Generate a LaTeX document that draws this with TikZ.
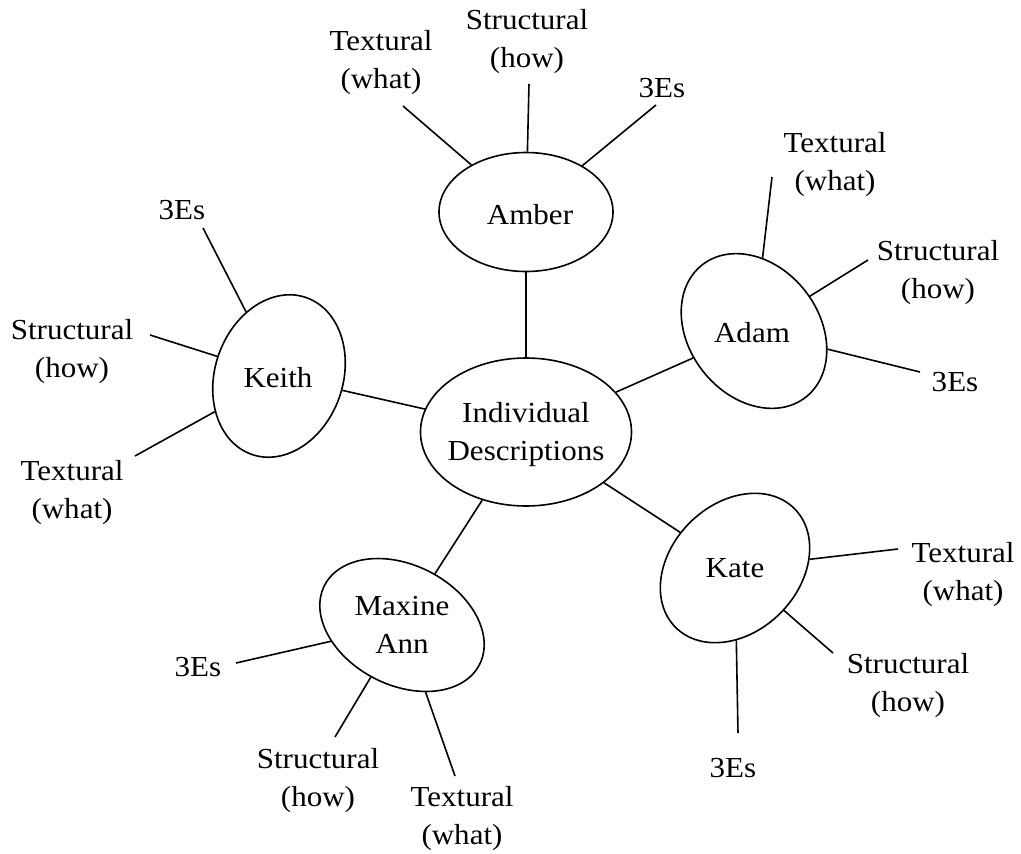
\documentclass[tikz,border=0pt]{standalone}
\usepackage{fontspec}
\setmainfont[FakeStretch=1.07]{Liberation Serif}
\usetikzlibrary{shapes.geometric}
\begin{document}
\begin{tikzpicture}[x=1pt,y=-1pt,
  person/.style={draw, ellipse, line width=1.6pt, inner sep=0pt},
  txt/.style={align=center, inner sep=0pt, font=\fontsize{29}{38}\selectfont},
  spoke/.style={line width=1.6pt}]
\useasboundingbox (0,0) rectangle (1021,854);

% ellipses
\node[person, minimum width=211, minimum height=148] (desc) at (526,432) {};
\node[person, minimum width=174, minimum height=119] (amber) at (526,212) {};
\node[person, minimum width=168, minimum height=130, rotate=-52] (adam) at (754,331) {};
\node[person, minimum width=166, minimum height=128, rotate=71] (keith) at (279,376) {};
\node[person, minimum width=168, minimum height=128, rotate=45] (kate) at (735,568) {};
\node[person, minimum width=174, minimum height=120, rotate=-27] (maxine) at (402,625) {};

% names inside the ellipses
\node[txt] (descname) at (526,435) {Individual\\Descriptions};
\node[txt] (ambername) at (530,215) {Amber};
\node[txt] (adamname) at (752,333) {Adam};
\node[txt] (keithname) at (278,378) {Keith};
\node[txt] (katename) at (735,568) {Kate};
\node[txt] (maxinename) at (402,625) {Maxine\\Ann};

% centre to each person
\draw[spoke] (desc) -- (amber);
\draw[spoke] (desc) -- (adam);
\draw[spoke] (desc) -- (keith);
\draw[spoke] (desc) -- (kate);
\draw[spoke] (desc) -- (maxine);

% facet labels
\node[txt] (amberT) at (381,63) {Textural\\(what)};
\node[txt] (amberS) at (527,42) {Structural\\(how)};
\node[txt] (amberE) at (662,88) {3Es};

\node[txt] (adamT) at (835,165) {Textural\\(what)};
\node[txt] (adamS) at (938,273) {Structural\\(how)};
\node[txt] (adamE) at (955,382) {3Es};

\node[txt] (keithE) at (182,210) {3Es};
\node[txt] (keithS) at (72,352) {Structural\\(how)};
\node[txt] (keithT) at (72,493) {Textural\\(what)};

\node[txt] (kateT) at (963,575) {Textural\\(what)};
\node[txt] (kateS) at (908,686) {Structural\\(how)};
\node[txt] (kateE) at (733,768) {3Es};

\node[txt] (maxineE) at (198,667) {3Es};
\node[txt] (maxineS) at (318,781) {Structural\\(how)};
\node[txt] (maxineT) at (462,819) {Textural\\(what)};

% outer ends of the facet spokes
\coordinate (amberTe) at (403,106);
\coordinate (amberSe) at (529,84);
\coordinate (amberEe) at (656,105);
\coordinate (adamTe) at (772,177);
\coordinate (adamSe) at (868,260);
\coordinate (adamEe) at (920,372);
\coordinate (keithEe) at (203,228);
\coordinate (keithSe) at (150,335);
\coordinate (keithTe) at (135,456);
\coordinate (kateTe) at (898,549);
\coordinate (kateSe) at (833,653);
\coordinate (kateEe) at (738,733);
\coordinate (maxineEe) at (236,663);
\coordinate (maxineSe) at (335,737);
\coordinate (maxineTe) at (455,776);

\foreach \p in {amber,adam,keith,kate,maxine}
  \foreach \f in {T,S,E}
    \draw[spoke] (\p) -- (\p\f e);
\end{tikzpicture}
\end{document}
